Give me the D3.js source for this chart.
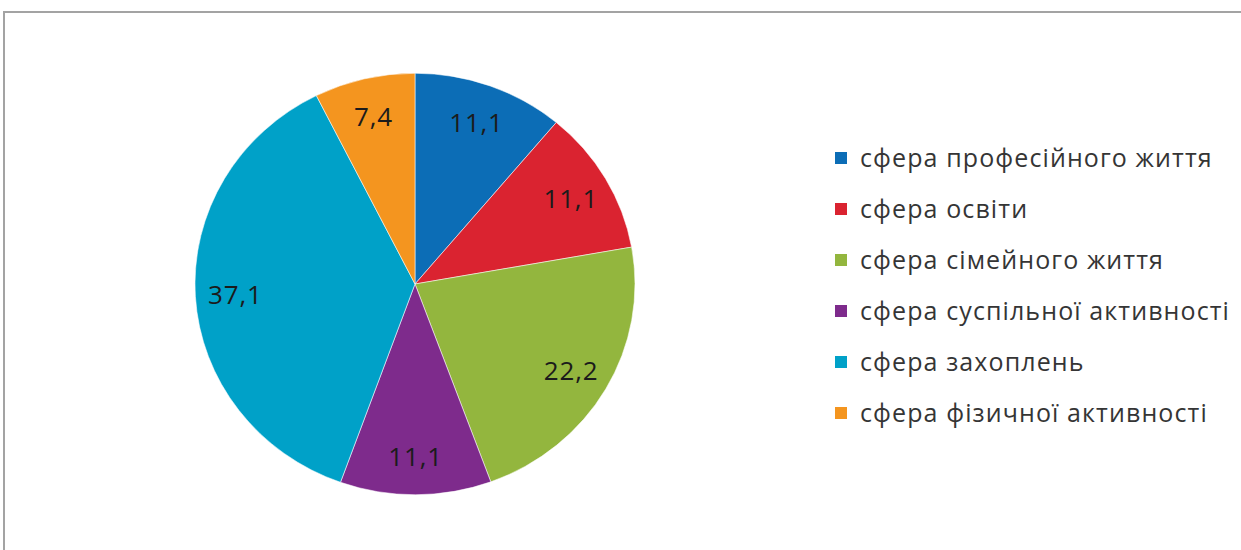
<!DOCTYPE html>
<html>
<head>
<meta charset="utf-8">
<script src="https://cdn.jsdelivr.net/npm/d3@7"></script>
<style>
  html, body { margin: 0; padding: 0; background: #fff; }
  svg { display: block; }
</style>
</head>
<body>
<svg id="chart" width="1241" height="550"></svg>
<script>
const categories = [
  "сфера професійного життя",
  "сфера освіти",
  "сфера сімейного життя",
  "сфера суспільної активності",
  "сфера захоплень",
  "сфера фізичної активності"
];
const values = [11.1, 11.1, 22.2, 11.1, 37.1, 7.4];
const labels = ["11,1", "11,1", "22,2", "11,1", "37,1", "7,4"];
const colors = ["#0C6DB6", "#DA2330", "#93B63E", "#7E2B8C", "#00A1C8", "#F4951F"];

const svg = d3.select("#chart");
const W = 1241, H = 550;

// frame
svg.append("rect").attr("x", 4).attr("y", 12).attr("width", W + 10).attr("height", H + 10)
  .attr("fill", "#fff").attr("stroke", "#a3a3a3").attr("stroke-width", 2);

const cx = 415, cy = 284, r = 220, sy = 0.958;
const data = categories.map((c, i) => ({ name: c, value: values[i], label: labels[i], color: colors[i] }));

const pie = d3.pie().value(d => d.value).sort(null);
const arcs = pie(data);
const arc = d3.arc().innerRadius(0).outerRadius(r);
const labelArc = d3.arc().innerRadius(180).outerRadius(180);

const g = svg.append("g").attr("transform", `translate(${cx},${cy}) scale(1,${sy})`);
g.selectAll("path").data(arcs).join("path")
  .attr("d", arc)
  .attr("fill", d => d.data.color)
  .attr("stroke", "rgba(255,255,255,0.55)")
  .attr("stroke-width", 1);

svg.append("g").selectAll("text").data(arcs).join("text")
  .attr("x", d => cx + labelArc.centroid(d)[0])
  .attr("y", d => cy + labelArc.centroid(d)[1] * sy)
  .attr("text-anchor", "middle")
  .attr("dominant-baseline", "central")
  .attr("font-family", "'Open Sans', sans-serif")
  .attr("font-size", 26)
  .attr("letter-spacing", 0.8)
  .attr("fill", "#1b1b1b")
  .text(d => d.data.label);

// legend
const legend = svg.append("g").attr("transform", "translate(835,152)");
const rowH = 51;
const item = legend.selectAll("g").data(data).join("g")
  .attr("transform", (d, i) => `translate(0,${i * rowH})`);
item.append("rect").attr("width", 12).attr("height", 12).attr("fill", d => d.color);
item.append("text")
  .attr("x", 25).attr("y", 15)
  .attr("font-family", "'Open Sans', sans-serif")
  .attr("font-size", 25)
  .attr("letter-spacing", 1.1)
  .attr("fill", "#353535")
  .text(d => d.name);
</script>
</body>
</html>
